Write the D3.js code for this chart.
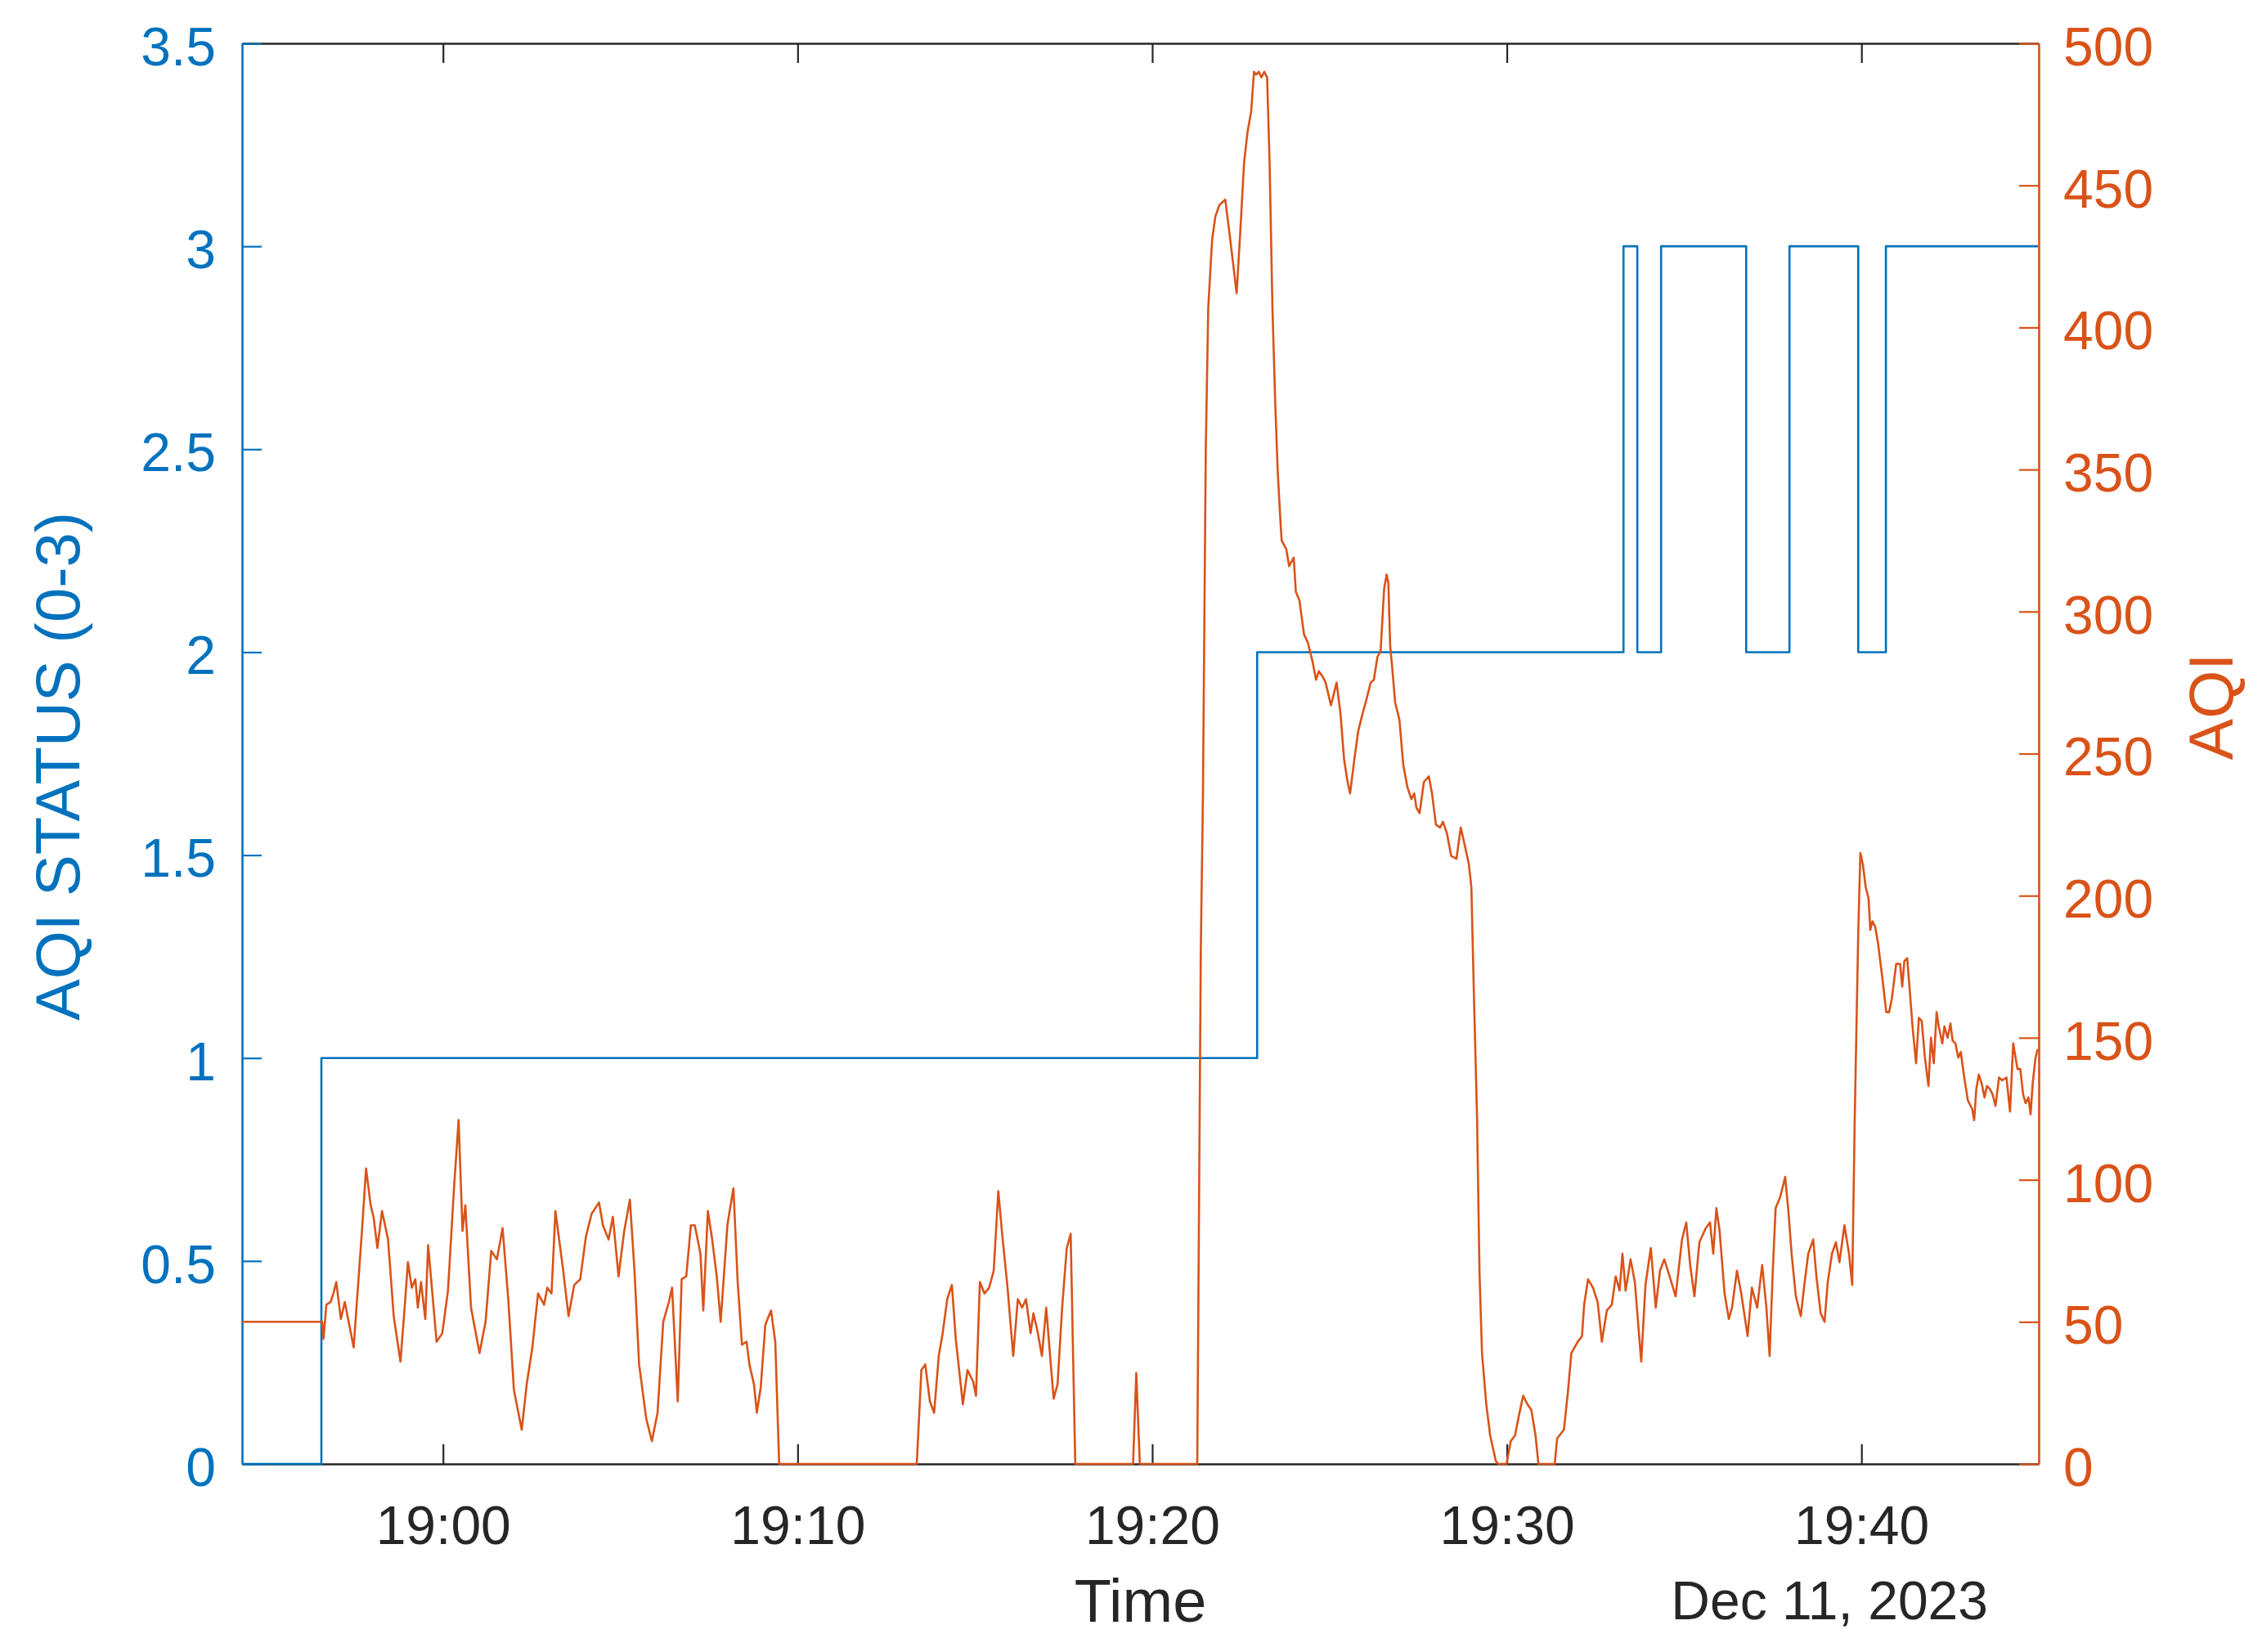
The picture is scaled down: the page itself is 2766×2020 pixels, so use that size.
<!DOCTYPE html>
<html>
<head>
<meta charset="utf-8">
<script src="https://cdn.jsdelivr.net/npm/d3@7"></script>
<style>
  body { margin: 0; background: #fff; }
</style>
</head>
<body>
<svg id="aqichart" width="2766" height="2020"></svg>
<script>
// AQI status steps (left axis), minutes after 19:00
var statusMinutes = [-5.67, -3.43, 22.96, 33.29, 33.68, 34.35, 36.75, 37.97, 39.91, 40.69, 44.98];
var statusValues  = [0, 1, 2, 3, 2, 3, 2, 3, 2, 3, 3];

// AQI readings (right axis), minutes after 19:00
var aqiMinutes = [
  -5.67,-3.41,-3.37,-3.29,-3.17,-3.09,-3.01,-2.88,-2.77,-2.52,-2.28,-2.17,-2.04,-1.96,-1.85,-1.72,-1.55,-1.39,-1.20,-1.07,
  -0.99,-0.88,-0.78,-0.71,-0.62,-0.50,-0.42,-0.18,-0.02,0.14,0.31,0.44,0.55,0.63,0.79,1.03,1.20,1.36,1.52,1.68,
  1.84,2.00,2.22,2.36,2.52,2.68,2.85,2.94,3.06,3.17,3.38,3.54,3.70,3.87,4.03,4.19,4.40,4.51,4.67,4.79,
  4.95,5.11,5.27,5.40,5.53,5.73,5.89,6.05,6.21,6.37,6.46,6.62,6.73,6.86,6.99,7.10,7.26,7.34,7.47,7.59,
  7.72,7.83,8.02,8.07,8.19,8.31,8.43,8.56,8.64,8.77,8.85,8.96,9.09,9.25,9.37,9.48,13.36,
  13.49,13.60,13.73,13.85,13.98,14.09,14.22,14.35,14.46,14.66,14.79,14.95,15.03,15.14,15.27,15.40,15.53,15.66,15.76,15.92,
  16.08,16.21,16.33,16.44,16.57,16.65,16.76,16.89,17.01,17.14,17.22,17.33,17.46,17.59,17.70,17.83,19.46,19.55,19.65,21.27,
  21.37,21.43,21.51,21.58,21.69,21.78,21.89,22.06,22.20,22.38,22.48,22.59,22.69,22.79,22.87,22.93,23.01,23.08,23.16,23.24,
  23.31,23.39,23.47,23.54,23.62,23.65,23.78,23.86,23.99,24.05,24.15,24.28,24.39,24.51,24.62,24.70,24.81,24.89,25.04,25.20,
  25.31,25.41,25.51,25.58,25.70,25.81,25.93,26.04,26.16,26.25,26.35,26.44,26.54,26.61,26.66,26.71,26.77,26.85,26.97,27.08,
  27.20,27.31,27.39,27.45,27.54,27.66,27.80,27.89,28.00,28.12,28.20,28.31,28.43,28.58,28.70,28.81,28.93,29.00,29.07,29.16,
  29.23,29.30,29.42,29.53,29.69,29.76,29.99,30.11,30.23,30.34,30.46,30.58,30.69,30.81,30.89,31.35,31.42,31.61,31.72,31.82,
  32.00,32.12,32.18,32.29,
  32.43,32.56,32.68,32.82,32.96,33.07,33.18,33.26,33.35,33.49,33.61,33.79,33.91,34.06,34.20,34.32,34.44,34.59,34.76,34.94,
  35.06,35.17,35.29,35.43,35.61,35.73,35.82,35.91,36.00,36.14,36.26,36.35,36.49,36.61,36.79,36.91,37.06,37.20,37.32,37.41,
  37.50,37.58,37.71,37.85,37.94,38.03,38.15,38.29,38.38,38.50,38.64,38.73,38.85,38.96,39.05,39.17,39.28,39.38,39.52,39.65,
  39.74,
  39.81,39.91,39.97,40.04,40.12,40.20,40.25,40.31,40.39,40.47,40.59,40.70,40.78,40.86,40.98,41.09,41.15,41.21,41.29,41.36,
  41.44,41.54,41.62,41.70,41.79,41.89,41.96,42.04,42.12,42.18,42.28,42.34,42.43,42.51,42.57,42.65,42.73,42.80,42.90,43.00,
  43.12,43.18,43.24,43.31,43.39,43.47,43.54,43.62,43.70,43.78,43.88,43.97,44.09,44.19,44.28,44.40,44.48,44.56,44.63,44.71,
  44.77,44.83,44.91,44.97
];
var aqiValues = [
  50,50,44,56,57,60,64,51,57,41,83,104,91,87,76,89,79,52,36,57,
  71,62,65,55,64,51,77,43,46,61,97,121,82,91,55,39,50,75,72,83,
  58,26,12,28,41,60,56,62,60,89,69,52,63,65,80,88,92,84,79,87,
  66,82,93,68,35,16,8,18,50,57,62,22,65,66,84,84,74,54,89,79,
  66,50,84,88,97,64,42,43,35,28,18,27,49,54,43,0,0,
  33,35,22,18,38,46,58,63,44,21,33,29,24,64,60,62,68,96,82,62,
  38,58,55,58,46,53,47,38,55,35,23,28,55,76,81,0,0,32,0,0,
  181,235,357,407,431,439,443,445,431,412,433,458,469,476,490,489,490,488,490,488,
  458,407,373,349,331,325,322,316,319,307,304,292,289,283,276,279,277,275,267,275,
  264,248,240,236,248,258,264,269,275,276,284,286,308,313,310,288,280,268,262,246,
  238,234,236,231,229,240,242,236,225,224,226,222,214,213,224,218,211,203,166,122,
  67,39,21,10,1,0,0,8,10,17,24,21,19,10,0,0,9,12,25,39,
  43,45,56,65,
  62,57,43,54,56,66,61,74,61,72,64,36,63,76,55,68,72,66,59,79,
  85,70,59,78,83,85,74,90,82,60,51,55,68,60,45,62,55,70,55,38,
  68,90,94,101,89,74,59,52,62,74,79,66,53,50,64,74,78,71,84,74,
  63,
  121,187,215,211,203,199,188,191,189,183,171,159,159,164,176,176,168,177,178,167,
  154,141,157,156,143,133,150,141,159,154,148,154,150,155,149,148,143,145,136,128,
  125,121,132,137,134,129,133,132,130,126,136,135,136,124,148,139,139,130,127,129,
  123,134,143,146
];

var statusTicks = [0, 0.5, 1, 1.5, 2, 2.5, 3, 3.5];
var aqiTicks = [0, 50, 100, 150, 200, 250, 300, 350, 400, 450, 500];
var timeTicks = ["19:00", "19:10", "19:20", "19:30", "19:40"];
var timeStart = "18:54:20", timeEnd = "19:45:00";
var dayLabel = "Dec 11, 2023";

var blue = "#0072BD", orange = "#D95319", ink = "#262626";
var fontFam = "'Liberation Sans', Arial, Helvetica, sans-serif";

var svg = d3.select("#aqichart");
// plot box edges, px
var boxL = 296, boxR = 2493, boxT = 53, boxB = 1790;

var parseT = d3.timeParse("%Y-%m-%d %H:%M:%S");
var base = parseT("2023-12-11 19:00:00");
function toDate(m) { return new Date(+base + m * 60000); }

var x = d3.scaleTime()
  .domain([parseT("2023-12-11 " + timeStart), parseT("2023-12-11 " + timeEnd)])
  .range([boxL, boxR]);
var yL = d3.scaleLinear().domain([0, 3.5]).range([boxB, boxT]);
var yR = d3.scaleLinear().domain([0, 500]).range([boxB, boxT]);

var tickDates = timeTicks.map(function(s) { return parseT("2023-12-11 " + s + ":00"); });

function styleAxis(g, col, size) {
  g.attr("font-family", fontFam).attr("font-size", size);
  g.select(".domain").attr("stroke", col).attr("stroke-width", 2.6);
  g.selectAll(".tick line").attr("stroke", col).attr("stroke-width", 2.2);
  g.selectAll(".tick text").attr("fill", col);
}

// bottom + top (box)
svg.append("g")
  .attr("transform", "translate(0," + boxB + ")")
  .call(d3.axisBottom(x).tickValues(tickDates).tickFormat(d3.timeFormat("%H:%M"))
    .tickSize(-24).tickSizeOuter(0).tickPadding(51))
  .call(styleAxis, ink, 66);

svg.append("g")
  .attr("transform", "translate(0," + boxT + ")")
  .call(d3.axisTop(x).tickValues(tickDates).tickFormat(function() { return ""; })
    .tickSize(-24).tickSizeOuter(0))
  .call(styleAxis, ink, 66);

// left axis - status
svg.append("g")
  .attr("transform", "translate(" + boxL + ",0)")
  .call(d3.axisLeft(yL).tickValues(statusTicks).tickFormat(function(d) { return String(d); })
    .tickSize(-24).tickSizeOuter(0).tickPadding(32))
  .call(styleAxis, blue, 66)
  .selectAll(".tick text").attr("dy", "0.4em");

// right axis - AQI
svg.append("g")
  .attr("transform", "translate(" + boxR + ",0)")
  .call(d3.axisRight(yR).tickValues(aqiTicks)
    .tickSize(-24).tickSizeOuter(0).tickPadding(30))
  .call(styleAxis, orange, 66)
  .selectAll(".tick text").attr("dy", "0.4em");

// lines
var statusData = statusMinutes.map(function(m, i) { return {t: toDate(m), v: statusValues[i]}; });
var aqiData = aqiMinutes.map(function(m, i) { return {t: toDate(m), v: aqiValues[i]}; });

svg.append("path")
  .datum(statusData)
  .attr("fill", "none")
  .attr("stroke", blue)
  .attr("stroke-width", 2.6)
  .attr("stroke-linejoin", "round")
  .attr("d", d3.line().curve(d3.curveStepAfter)
    .x(function(d) { return x(d.t); })
    .y(function(d) { return yL(d.v); }));

svg.append("path")
  .datum(aqiData)
  .attr("fill", "none")
  .attr("stroke", orange)
  .attr("stroke-width", 2.6)
  .attr("stroke-linejoin", "round")
  .attr("d", d3.line()
    .x(function(d) { return x(d.t); })
    .y(function(d) { return yR(d.v); }));

// labels
svg.append("text")
  .attr("transform", "translate(97,937) rotate(-90)")
  .attr("text-anchor", "middle")
  .attr("font-family", fontFam).attr("font-size", 76)
  .attr("fill", blue)
  .text("AQI STATUS (0-3)");

svg.append("text")
  .attr("transform", "translate(2730,864) rotate(-90)")
  .attr("text-anchor", "middle")
  .attr("font-family", fontFam).attr("font-size", 76)
  .attr("fill", orange)
  .text("AQI");

svg.append("text")
  .attr("x", (boxL + boxR) / 2).attr("y", 1983)
  .attr("text-anchor", "middle")
  .attr("font-family", fontFam).attr("font-size", 74)
  .attr("fill", ink)
  .text("Time");

svg.append("text")
  .attr("x", 2431).attr("y", 1980)
  .attr("text-anchor", "end")
  .attr("font-family", fontFam).attr("font-size", 66)
  .attr("fill", ink)
  .text(dayLabel);
</script>
</body>
</html>
